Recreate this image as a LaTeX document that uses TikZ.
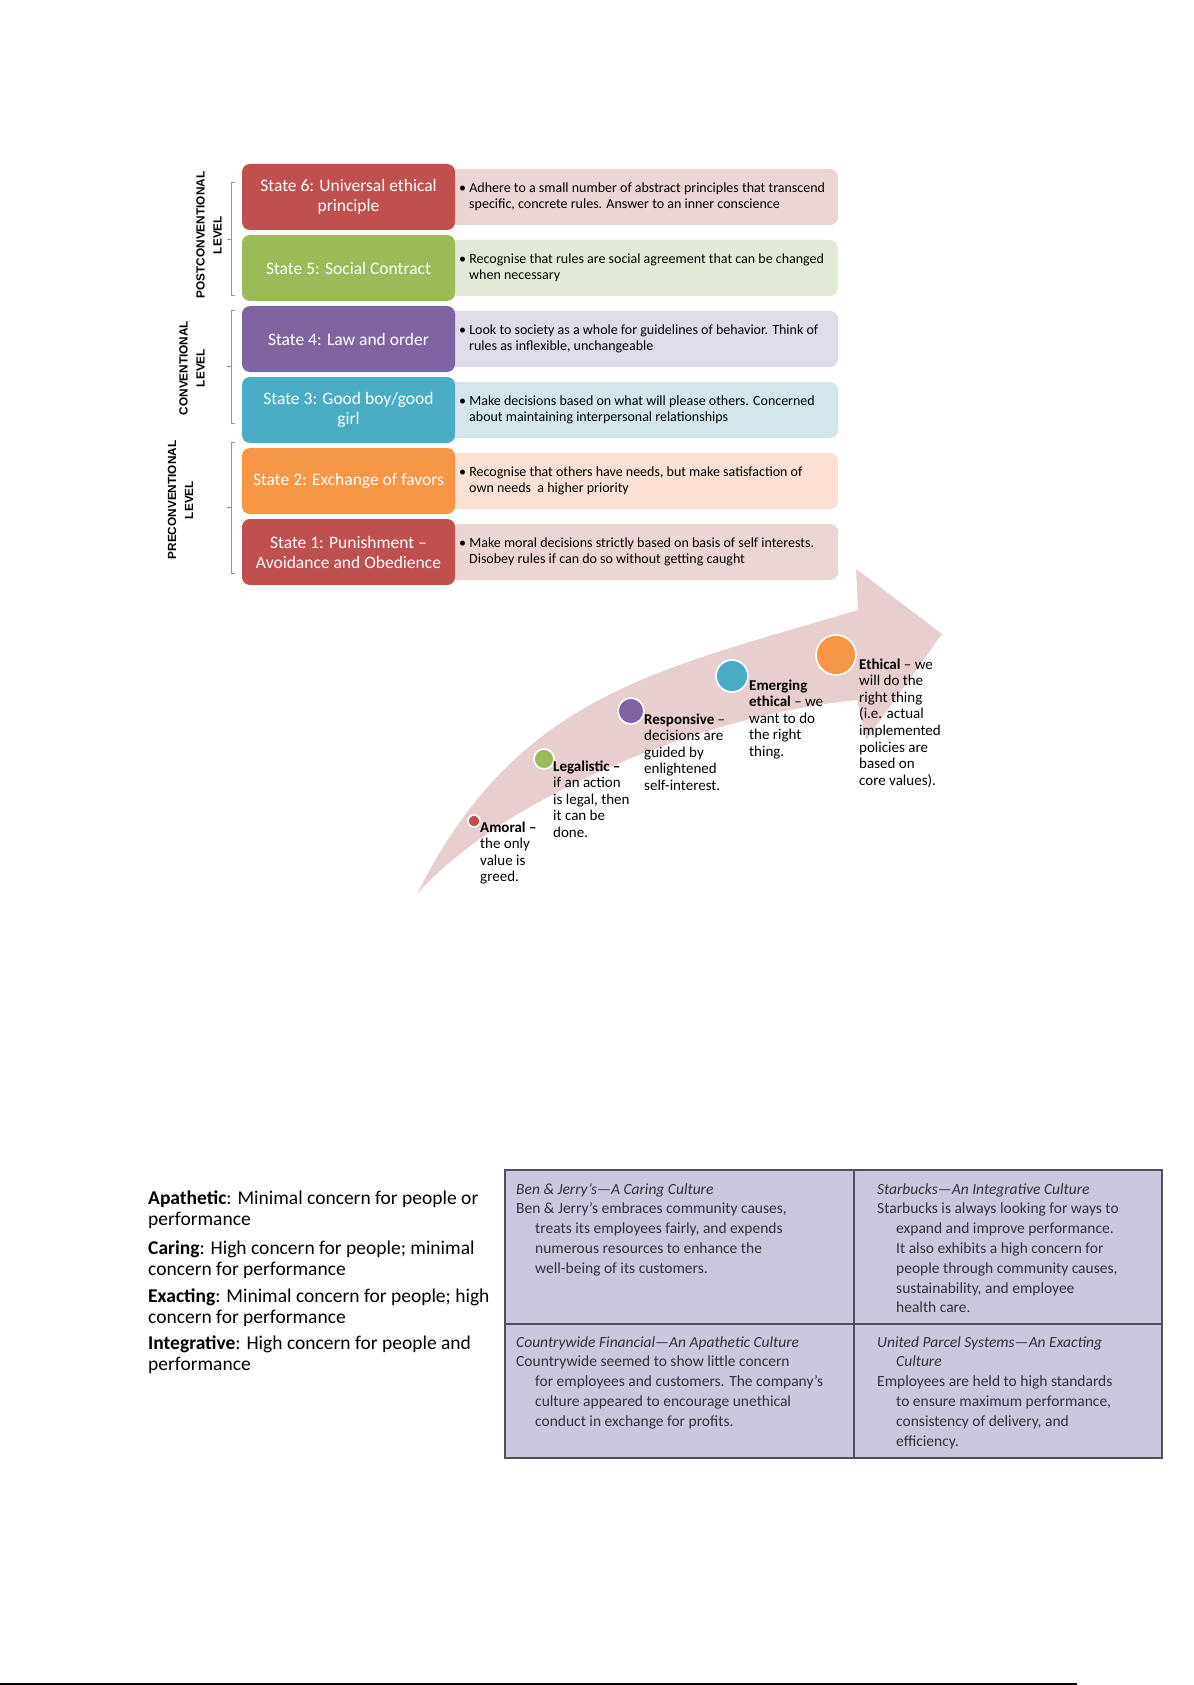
\documentclass[tikz,border=0pt]{standalone}
\usepackage{fontspec}
\setmainfont{Carlito}
\newfontfamily\labfont{Liberation Sans}
\definecolor{cRed}{RGB}{192,80,77}
\definecolor{cGreen}{RGB}{155,187,89}
\definecolor{cPurple}{RGB}{128,100,162}
\definecolor{cAqua}{RGB}{75,172,198}
\definecolor{cOrange}{RGB}{247,150,70}
\definecolor{lRed}{RGB}{235,213,213}
\definecolor{lGreen}{RGB}{227,235,216}
\definecolor{lPurple}{RGB}{223,219,232}
\definecolor{lAqua}{RGB}{212,230,236}
\definecolor{lOrange}{RGB}{252,224,211}
\definecolor{arrowpink}{RGB}{231,207,208}
\definecolor{brk}{RGB}{125,155,196}
\definecolor{tbl}{RGB}{204,199,222}
\definecolor{tblline}{RGB}{80,80,88}
\definecolor{tbltext}{RGB}{50,50,55}
\newcommand\tind{\hspace*{19pt}}
\newcommand\bind{\hspace*{10pt}}
\tikzset{
  statebox/.style={rounded corners=8pt, minimum width=213pt, minimum height=66pt, inner sep=0pt,
    text=white, align=center, font=\fontsize{17.5}{20}\selectfont},
  descbox/.style={rounded corners=8pt, minimum width=398pt, minimum height=56pt, inner sep=0pt},
  desctext/.style={anchor=west, align=left, inner sep=0pt, font=\fontsize{14}{15.5}\selectfont},
  levellabel/.style={rotate=90, align=center, inner sep=0pt, font=\labfont\bfseries\fontsize{11.8}{17}\selectfont},
  bracket/.style={draw=brk, line width=0.9pt},
  dot/.style={circle, draw=white, line width=1.6pt, inner sep=0pt},
  steptext/.style={anchor=base west, align=left, inner sep=0pt, font=\fontsize{15}{16.6}\selectfont},
  typetext/.style={anchor=base west, align=left, inner sep=0pt, font=\fontsize{19.5}{21.7}\selectfont},
  celltext/.style={anchor=base west, align=left, inner sep=0pt, text=tbltext, font=\fontsize{15.5}{19.8}\selectfont}
}
\begin{document}
\begin{tikzpicture}[x=1pt,y=-1pt]
\useasboundingbox (0,0) rectangle (1193,1685);
\fill[white] (0,0) rectangle (1193,1685);

% ---------- stage rows ----------
\node[descbox, fill=lRed]    (d6) at (639,197) {};
\node[descbox, fill=lGreen]  (d5) at (639,268) {};
\node[descbox, fill=lPurple] (d4) at (639,339) {};
\node[descbox, fill=lAqua]   (d3) at (639,410) {};
\node[descbox, fill=lOrange] (d2) at (639,481) {};
\node[descbox, fill=lRed]    (d1) at (639,552) {};

\node[statebox, fill=cRed]    (s6) at (348.5,197) {State 6: Universal ethical\\principle};
\node[statebox, fill=cGreen]  (s5) at (348.5,268) {State 5: Social Contract};
\node[statebox, fill=cPurple] (s4) at (348.5,339) {State 4: Law and order};
\node[statebox, fill=cAqua]   (s3) at (348.5,410) {State 3: Good boy/good\\girl};
\node[statebox, fill=cOrange] (s2) at (348.5,481) {State 2: Exchange of favors};
\node[statebox, fill=cRed]    (s1) at (348.5,552) {State 1: Punishment –\\Avoidance and Obedience};

\node[desctext] (t6) at (459,197) {\textbullet\ Adhere to a small number of abstract principles that transcend\\\bind specific, concrete rules. Answer to an inner conscience};
\node[desctext] (t5) at (459,268) {\textbullet\ Recognise that rules are social agreement that can be changed\\\bind when necessary};
\node[desctext] (t4) at (459,339) {\textbullet\ Look to society as a whole for guidelines of behavior. Think of\\\bind rules as inflexible, unchangeable};
\node[desctext] (t3) at (459,410) {\textbullet\ Make decisions based on what will please others. Concerned\\\bind about maintaining interpersonal relationships};
\node[desctext] (t2) at (459,481) {\textbullet\ Recognise that others have needs, but make satisfaction of\\\bind own needs\ \ a higher priority};
\node[desctext] (t1) at (459,552) {\textbullet\ Make moral decisions strictly based on basis of self interests.\\\bind Disobey rules if can do so without getting caught};

% ---------- level brackets ----------
\draw[bracket] (235,182) -- (231,182) -- (231,295) -- (235,295);
\draw[bracket] (231,239) -- (227,239);
\draw[bracket] (235,310) -- (231,310) -- (231,423) -- (235,423);
\draw[bracket] (231,366) -- (227,366);
\draw[bracket] (235,442) -- (231,442) -- (231,573) -- (235,573);
\draw[bracket] (231,507) -- (227,507);

\node[levellabel] (lpost) at (209,235) {POSTCONVENTIONAL\\LEVEL};
\node[levellabel] (lconv) at (192,368) {CONVENTIONAL\\LEVEL};
\node[levellabel] (lpre)  at (180.5,500) {PRECONVENTIONAL\\LEVEL};

% ---------- curved arrow ----------
\fill[arrowpink] (417,894) .. controls (517,694) and (658,670) .. (858,610)
  -- (856,569) -- (942,634) -- (866,740) -- (857,700)
  .. controls (700,715) and (500,800) .. (417,894) -- cycle;

\node[dot, fill=cRed,    minimum size=12pt] (c1) at (474,821) {};
\node[dot, fill=cGreen,  minimum size=20pt] (c2) at (544,759) {};
\node[dot, fill=cPurple, minimum size=26pt] (c3) at (631,711) {};
\node[dot, fill=cAqua,   minimum size=32pt] (c4) at (732,676) {};
\node[dot, fill=cOrange, minimum size=40pt] (c5) at (836,655) {};

% base anchor of a multi-line node = baseline of its last line
\node[steptext] (a1) at (480,881.8) {\textbf{Amoral –}\\the only\\value is\\greed.};
\node[steptext] (a2) at (553,837.4) {\textbf{Legalistic –}\\if an action\\is legal, then\\it can be\\done.};
\node[steptext] (a3) at (644,790.4) {\textbf{Responsive} –\\decisions are\\guided by\\enlightened\\self-interest.};
\node[steptext] (a4) at (749,756.4) {\textbf{Emerging}\\\textbf{ethical} – we\\want to do\\the right\\thing.};
\node[steptext] (a5) at (859,785.2) {\textbf{Ethical} – we\\will do the\\right thing\\(i.e. actual\\implemented\\policies are\\based on\\core values).};

% ---------- culture types ----------
\node[typetext] (p1) at (148,1225.7) {\textbf{Apathetic}: Minimal concern for people or\\performance};
\node[typetext] (p2) at (148,1275.7) {\textbf{Caring}: High concern for people; minimal\\concern for performance};
\node[typetext] (p3) at (148,1323.7) {\textbf{Exacting}: Minimal concern for people; high\\concern for performance};
\node[typetext] (p4) at (148,1370.7) {\textbf{Integrative}: High concern for people and\\performance};

% ---------- culture table ----------
\filldraw[fill=tbl, draw=tblline, line width=1.1pt] (505,1170) rectangle (1162,1458);
\draw[tblline, line width=1.1pt] (854,1170) -- (854,1458);
\draw[tblline, line width=1.1pt] (505,1324) -- (1162,1324);

\node[celltext] (q1) at (516,1273.2) {\textit{Ben \& Jerry’s—A Caring Culture}\\Ben \& Jerry’s embraces community causes,\\\tind treats its employees fairly, and expends\\\tind numerous resources to enhance the\\\tind well-being of its customers.};
\node[celltext] (q2) at (877,1312.8) {\textit{Starbucks—An Integrative Culture}\\Starbucks is always looking for ways to\\\tind expand and improve performance.\\\tind It also exhibits a high concern for\\\tind people through community causes,\\\tind sustainability, and employee\\\tind health care.};
\node[celltext] (q3) at (516,1426.2) {\textit{Countrywide Financial—An Apathetic Culture}\\Countrywide seemed to show little concern\\\tind for employees and customers. The company’s\\\tind culture appeared to encourage unethical\\\tind conduct in exchange for profits.};
\node[celltext] (q4) at (877,1446) {\textit{United Parcel Systems—An Exacting}\\\tind\textit{Culture}\\Employees are held to high standards\\\tind to ensure maximum performance,\\\tind consistency of delivery, and\\\tind efficiency.};

% ---------- page rule ----------
\draw[black, line width=1.5pt] (0,1684) -- (1077,1684);
\end{tikzpicture}
\end{document}
